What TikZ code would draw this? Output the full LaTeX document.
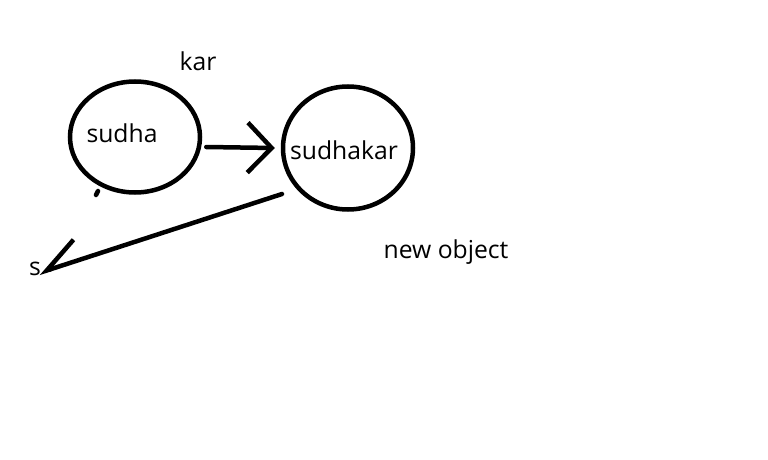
\documentclass[tikz,border=0pt]{standalone}
\usepackage{fontspec}
\setmainfont{Open Sans}
\usetikzlibrary{arrows.meta,shapes.geometric}
\tikzset{
  blob/.style={draw, ellipse, line width=4.5pt, inner sep=0pt},
  word/.style={font=\fontsize{24.7}{28}\selectfont, inner sep=0pt},
  stroke/.style={line width=4.5pt, line cap=round},
}
\begin{document}
\begin{tikzpicture}[x=1pt,y=-1pt]
\useasboundingbox (0,0) rectangle (768,460);
% the two objects
\node[blob, minimum width=130pt, minimum height=111pt] (sudha) at (135,137) {};
\node[word] (sudhaname) at (122,133) {sudha};
\node[blob, minimum width=130pt, minimum height=123pt] (sudhakar) at (348,148) {};
\node[word] (sudhakarname) at (344,150) {sudhakar};

\node[word] (kar) at (198,61) {kar};
\node[word] (newobj) at (446,252) {new object};
\node[word] (s) at (35,269) {s};

% connectors
\draw[stroke, -{Straight Barb[length=24pt, width=50pt]}] ([xshift=4pt, yshift=-10pt]sudha.east) -- ([xshift=-6pt]sudhakar.west);
\coordinate (tail) at (282,194);
\draw[stroke, -{Straight Barb[length=35pt, width=42pt, right]}] (tail) -- ([xshift=4pt, yshift=-4pt]s.center);
\draw[stroke] (96,195) -- (98,191);
\end{tikzpicture}
\end{document}
